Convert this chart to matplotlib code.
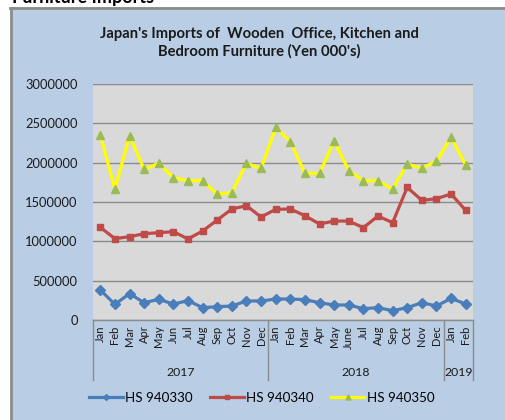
import matplotlib
matplotlib.use("Agg")
import matplotlib.pyplot as plt
from matplotlib.patches import Rectangle
from matplotlib.lines import Line2D
import matplotlib.transforms as mtransforms

months = ["Jan", "Feb", "Mar", "Apr", "May", "Jun", "Jul", "Aug", "Sep", "Oct", "Nov", "Dec",
          "Jan", "Feb", "Mar", "Apr", "May", "June", "Jul", "Aug", "Sep", "Oct", "Nov", "Dec",
          "Jan", "Feb"]
years = ["2017", "2018", "2019"]
year_counts = [12, 12, 2]

hs940330 = [381000, 199000, 335000, 220000, 263000, 203000, 246000, 157000, 169000, 178000, 242000, 242000,
            267000, 267000, 258000, 220000, 191000, 191000, 144000, 157000, 119000, 157000, 220000, 178000,
            275000, 203000]
hs940340 = [1178000, 1034000, 1059000, 1097000, 1110000, 1123000, 1030000, 1131000, 1271000, 1411000, 1453000, 1309000,
            1407000, 1411000, 1326000, 1220000, 1258000, 1258000, 1174000, 1322000, 1237000, 1686000, 1521000, 1542000,
            1602000, 1394000]
hs940350 = [2352000, 1665000, 2343000, 1915000, 1992000, 1809000, 1771000, 1771000, 1598000, 1619000, 1992000, 1928000,
            2449000, 2267000, 1864000, 1864000, 2275000, 1898000, 1771000, 1770000, 1665000, 1983000, 1928000, 2021000,
            2322000, 1970000]
series_labels = ["HS 940330", "HS 940340", "HS 940350"]
yticks = [0, 500000, 1000000, 1500000, 2000000, 2500000, 3000000]

W, H = 506, 420
fig = plt.figure(figsize=(W / 100, H / 100), dpi=100)
fig.patch.set_facecolor("white")

BLUE_BG = "#B9CDE5"

# background frame
fig.add_artist(Rectangle((11 / W, 0), 1 - 11 / W, 1 - 7 / H, transform=fig.transFigure,
                         facecolor=BLUE_BG, edgecolor="none", zorder=0))
fig.add_artist(Line2D([11 / W, 11 / W], [0, 1 - 8 / H], transform=fig.transFigure, color="#8C8C8C", lw=2))
fig.add_artist(Line2D([10 / W, 1], [1 - 8 / H, 1 - 8 / H], transform=fig.transFigure, color="#8C8C8C", lw=2))

fig.text(12 / W, 1 - 3 / H, "Furniture Imports", fontsize=13, fontweight="bold", color="black",
         va="baseline", ha="left", family="Lato")

fig.text(259 / W, 1 - 43 / H, "Japan's Imports of  Wooden  Office, Kitchen and\nBedroom Furniture (Yen 000's)",
         ha="center", va="center", fontsize=10.6, fontweight="bold", color="#1a1a1a",
         family="Lato", linespacing=1.3)

left, right, top, bottom = 93, 473, 84, 320
ax = fig.add_axes([left / W, 1 - bottom / H, (right - left) / W, (bottom - top) / H])
ax.set_facecolor("#D9D9D9")

x = list(range(len(months)))
ax.plot(x, hs940330, color="#4A7EBB", lw=2.3, marker="D", ms=5, mfc="#4A7EBB", mec="#4A7EBB",
        label=series_labels[0], zorder=3)
ax.plot(x, hs940340, color="#BE4B48", lw=2.3, marker="s", ms=5, mfc="#BE4B48", mec="#BE4B48",
        label=series_labels[1], zorder=3)
ax.plot(x, hs940350, color="#FFFF00", lw=2.3, marker="^", ms=6, mfc="#9BBB59", mec="#9BBB59",
        label=series_labels[2], zorder=3)

ax.set_xlim(-0.5, len(months) - 0.5)
ax.set_ylim(0, 3000000)
ax.set_yticks(yticks)
ax.set_yticklabels([str(v) for v in yticks], fontsize=9.3, family="Lato", color="#1a1a1a")
ax.yaxis.grid(True, color="#8C8C8C", lw=1)
ax.set_axisbelow(True)
ax.tick_params(axis="y", length=0, pad=11)
ax.set_xticks(x)
ax.set_xticklabels(months, rotation=90, fontsize=8, family="Lato", color="#1a1a1a")
ax.tick_params(axis="x", length=0, pad=4)
for s in ["top", "right", "left"]:
    ax.spines[s].set_visible(False)
ax.spines["bottom"].set_color("#8C8C8C")
ax.spines["bottom"].set_linewidth(1)

# group dividers and year labels
trans = mtransforms.blended_transform_factory(ax.transData, ax.transAxes)
depth = -(380 - bottom) / (bottom - top)
ylab = -(372 - bottom) / (bottom - top)
pos = -0.5
bounds = [pos]
for yr, n in zip(years, year_counts):
    ax.text(pos + n / 2, ylab, yr, transform=trans, ha="center", va="center", fontsize=8.8,
            family="Lato", color="#1a1a1a")
    pos += n
    bounds.append(pos)
for b in bounds:
    ax.add_line(Line2D([b, b], [0, depth], transform=trans, color="#8C8C8C", lw=1, clip_on=False))

leg = fig.legend(loc="center", bbox_to_anchor=(262 / W, 1 - 398 / H), ncol=3, frameon=False,
                 prop={"family": "Lato", "size": 9.6}, handlelength=2.5, columnspacing=1.3,
                 handletextpad=0.2, markerscale=0.6)

fig.savefig("out.png", dpi=100, facecolor=fig.get_facecolor())
